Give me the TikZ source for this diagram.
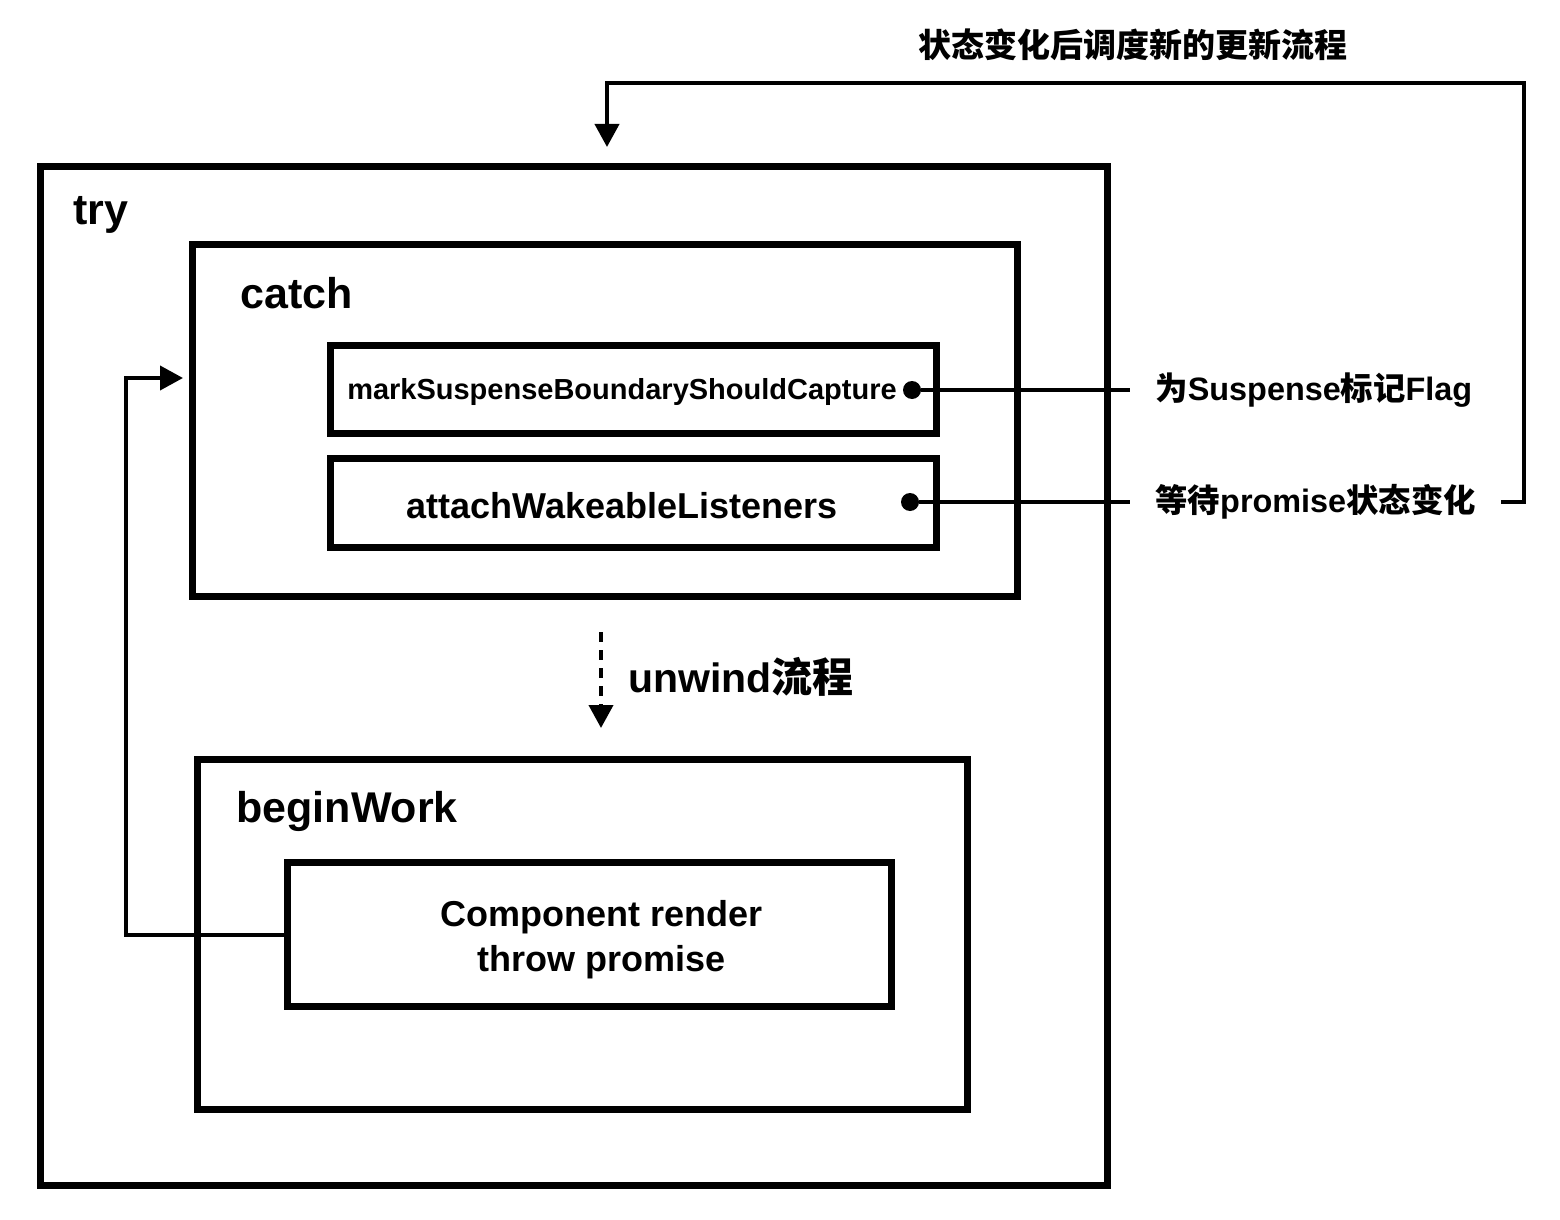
\documentclass[tikz,border=0pt]{standalone}
\usepackage{fontspec}
\setmainfont{Liberation Sans}
\newfontfamily\cjk{Noto Sans CJK SC}
\usetikzlibrary{arrows.meta}
\newcommand\zh[1]{{\cjk #1}}
\begin{document}
\begin{tikzpicture}[x=0.5pt,y=-0.5pt,
  box/.style={draw, line width=3.5pt, inner sep=0pt},
  conn/.style={line width=2pt},
  tip/.style={-{Triangle[length=11.5pt,width=12pt]}},
  title/.style={font=\bfseries\fontsize{21.5pt}{26pt}\selectfont, inner sep=0pt, anchor=base west},
  btext/.style={font=\bfseries\fontsize{18pt}{22.5pt}\selectfont, align=center, inner sep=0pt},
  side/.style={font=\bfseries\fontsize{16.2pt}{20pt}\selectfont, inner ysep=2pt, inner xsep=12.5pt, anchor=west},
  dot/.style={circle, fill, minimum size=9pt, inner sep=0pt}]
\useasboundingbox (0,0) rectangle (1560,1220);
% boxes
\node[box, minimum width=533.5pt, minimum height=509.5pt] (try) at (574,676) {};
\node[box, minimum width=412.5pt, minimum height=176pt] (catch) at (605,420.5) {};
\node[box, minimum width=303pt, minimum height=44pt] (mark) at (633.5,389.5) {};
\node[box, minimum width=303pt, minimum height=44.5pt] (attach) at (633.5,503) {};
\node[box, minimum width=385pt, minimum height=175pt] (begin) at (582.5,934.5) {};
\node[box, minimum width=302pt, minimum height=72pt] (comp) at (589.5,934.5) {};
% titles
\node[title] (trylbl) at (73,225) {try};
\node[title] (catchlbl) at (240,308) {catch};
\node[title] (beginlbl) at (236,822) {beginWork};
% inner texts
\node[btext, font=\bfseries\fontsize{14.5pt}{18pt}\selectfont] (marktxt) at (622,392) {markSuspenseBoundaryShouldCapture};
\node[btext] (attachtxt) at (622,506) {attachWakeableListeners};
\node[btext] (comptxt) at (602,940) {Component render\\throw promise};
% dots
\node[dot] (d1) at (912,390) {};
\node[dot] (d2) at (910,502) {};
% side labels
\node[side] (l1) at (1130,390) {\zh{为}Suspense\zh{标记}Flag};
\node[side] (l2) at (1130,502) {\zh{等待}promise\zh{状态变化}};
\node[font=\bfseries\fontsize{16.5pt}{20pt}\selectfont, inner sep=0pt] (top) at (1133,45) {\zh{状态变化后调度新的更新流程}};
% connectors
\draw[conn] (d1) -- (l1.west);
\draw[conn] (d2) -- (l2.west);
\coordinate (fbtip) at (607,147);
\draw[conn, tip] (l2.east) -- (1524,502) -- (1524,83) -| (fbtip);
\coordinate (cin) at (183,378);
\draw[conn, tip] (comp.west) -- (126,934.5) -- (126,378) -- (cin);
\coordinate (us) at (601,632);
\coordinate (ue) at (601,728);
\draw[conn, dash pattern=on 5pt off 4pt, tip] (us) -- (ue);
\node[font=\bfseries\fontsize{20.5pt}{24pt}\selectfont, inner sep=0pt, anchor=west] (unw) at (628,677) {unwind\zh{流程}};
\end{tikzpicture}
\end{document}
